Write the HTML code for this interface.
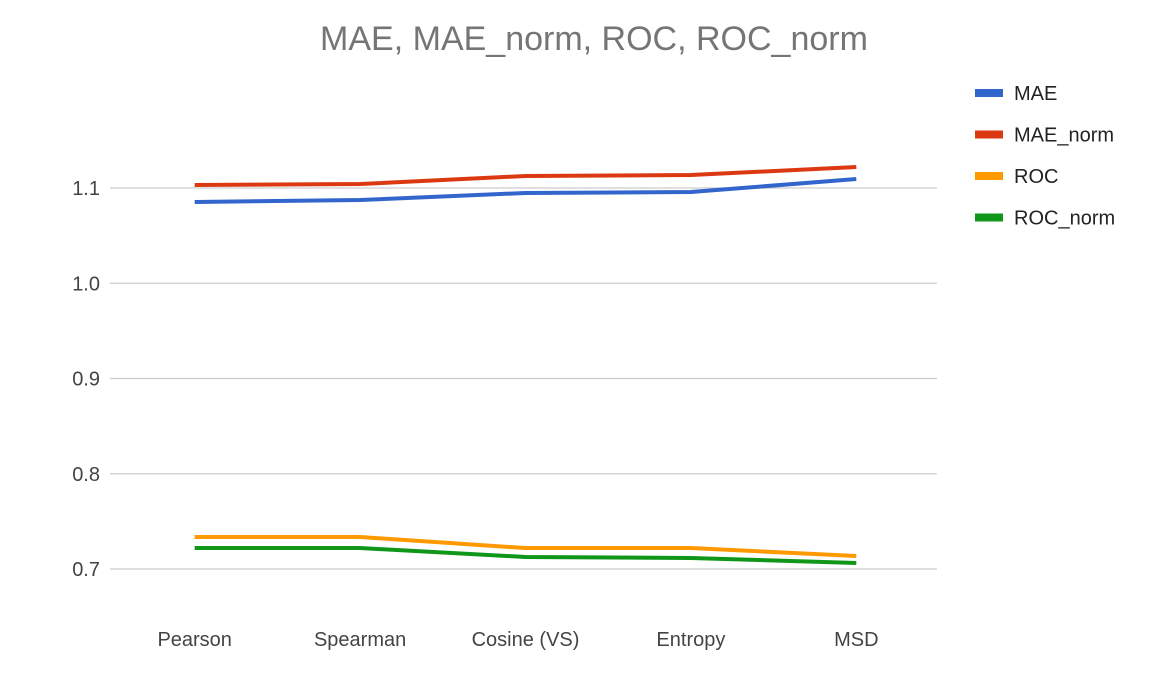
<!DOCTYPE html>
<html><head><meta charset="utf-8"><style>
body{margin:0;background:#fff;font-family:"Liberation Sans",Arial,sans-serif}
svg text{font-family:"Liberation Sans",Arial,sans-serif}
</style></head><body>
<svg id="chart" width="1150" height="678" xmlns="http://www.w3.org/2000/svg">
<text x="594" y="50" text-anchor="middle" font-size="34" fill="#757575">MAE, MAE_norm, ROC, ROC_norm</text>
<g id="grid"></g><g id="lines"></g><g id="legend"></g>
</svg>
<script>
const categories=["Pearson","Spearman","Cosine (VS)","Entropy","MSD"];
const seriesNames=["MAE","MAE_norm","ROC","ROC_norm"];
const colors=["#3366cc","#dc3912","#ff9900","#109618"];
const maeValues=[1.0853,1.0874,1.0948,1.0958,1.1094];
const maeNormValues=[1.1031,1.1042,1.1126,1.1136,1.122];
const rocValues=[0.7336,0.7336,0.722,0.722,0.7136];
const rocNormValues=[0.722,0.722,0.7126,0.7116,0.7063];
const yTicks=[0.7,0.8,0.9,1.0,1.1];
const yTickLabels=["0.7","0.8","0.9","1.0","1.1"];
const series=[maeValues,maeNormValues,rocValues,rocNormValues];
const NS="http://www.w3.org/2000/svg";
const x0=112,x1=939;
const xs=i=>x0+(x1-x0)/categories.length*(i+0.5);
const ys=v=>569-(v-0.7)/0.4*(569-188);
function mk(t,a,p){const e=document.createElementNS(NS,t);for(const k in a)e.setAttribute(k,a[k]);p.appendChild(e);return e;}
const grid=document.getElementById('grid');
yTicks.forEach((v,i)=>{
 const l=mk('line',{x1:x0-2,x2:x1-2,y1:ys(v),y2:ys(v),stroke:'#cccccc','stroke-width':1.3},grid);
 
 
 const t=mk('text',{x:100,y:ys(v)+7,'text-anchor':'end','font-size':20,fill:'#444'},grid);t.textContent=yTickLabels[i];
 
 
});
categories.forEach((c,i)=>{
 const t=mk('text',{x:xs(i),y:646,'text-anchor':'middle','font-size':20,fill:'#444'},grid);t.textContent=c;
 
 
});
const lines=document.getElementById('lines');
series.forEach((s,k)=>{
 const p=mk('polyline',{points:s.map((v,i)=>xs(i)+','+ys(v)).join(' '),fill:'none',stroke:colors[k],'stroke-width':4,'stroke-linejoin':'round'},lines);
 
 
});
const lg=document.getElementById('legend');
seriesNames.forEach((n,k)=>{
 const g=mk('g',{},lg);
 
 
 const y=93+k*41.5;
 mk('rect',{x:975,y:y-4,width:28,height:8,fill:colors[k]},g);
 const t=mk('text',{x:1014,y:y+7,'font-size':20,fill:'#222'},g);t.textContent=n;
});
</script>
</body></html>
